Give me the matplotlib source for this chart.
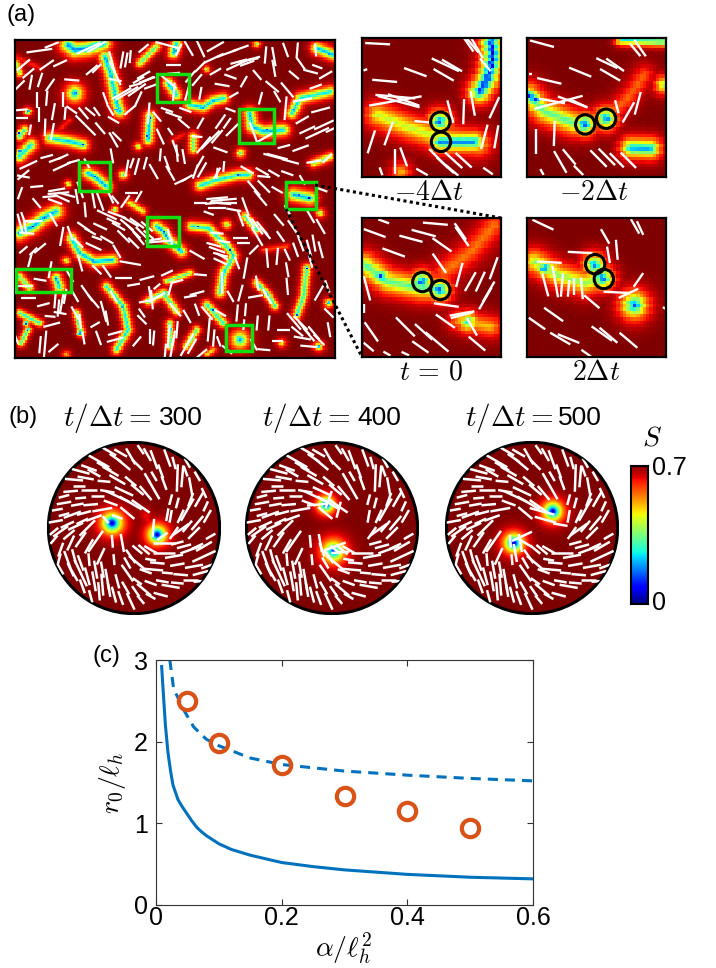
import numpy as np
import matplotlib
matplotlib.use("Agg")
import matplotlib.pyplot as plt
from matplotlib.collections import LineCollection
from matplotlib.patches import Circle, Rectangle

plt.rcParams['font.family'] = ['Liberation Sans', 'DejaVu Sans']
plt.rcParams['mathtext.fontset'] = 'cm'

W, H = 716, 968

# panel (c)
alpha_solid = [0.009, 0.012, 0.015, 0.019, 0.023, 0.027, 0.035, 0.042, 0.05, 0.057, 0.065, 0.072, 0.08, 0.09, 0.1, 0.12, 0.15, 0.2, 0.25, 0.3, 0.4, 0.5, 0.6]
r0_solid = [2.92, 2.55, 2.2, 1.87, 1.65, 1.47, 1.29, 1.2, 1.11, 1.03, 0.95, 0.9, 0.85, 0.8, 0.75, 0.68, 0.61, 0.52, 0.47, 0.43, 0.375, 0.34, 0.32]
alpha_dash = [0.022, 0.028, 0.044, 0.06, 0.08, 0.1, 0.15, 0.2, 0.3, 0.4, 0.5, 0.6]
r0_dash = [3.0, 2.65, 2.39, 2.18, 2.03, 1.95, 1.8, 1.72, 1.64, 1.59, 1.55, 1.52]
alpha_sim = [0.05, 0.1, 0.2, 0.3, 0.4, 0.5]
r0_sim = [2.5, 1.98, 1.72, 1.34, 1.15, 0.94]

# panel (a), low-order streaks: (points, width, depth)
main_streaks = [
    ([(205,45),(225,60),(265,55),(310,40)],19,.75), ([(315,80),(335,140),(350,215),(360,245)],15,.7),
    ([(530,40),(520,70)],13,.7), ([(470,50),(420,100)],11,.55), ([(225,190)],21,.75), ([(85,245)],10,.5),
    ([(75,300),(60,320)],11,.6), ([(95,345),(60,380)],15,.65), ([(150,325),(210,335),(250,345)],14,.68),
    ([(450,260),(445,330)],13,.7), ([(415,350)],10,.5), ([(580,320),(580,360)],11,.55),
    ([(505,160),(530,195)],13,.7), ([(570,225),(610,232),(640,212),(670,205)],13,.68), ([(620,118)],9,.45),
    ([(750,250),(755,290),(790,305),(850,300)],15,.7), ([(875,250),(900,205),(990,185)],14,.65),
    ([(950,55),(1000,75)],14,.7), ([(770,42)],9,.5), ([(722,370)],11,.6),
    ([(600,467),(650,450),(715,435),(745,435)],13,.65), ([(265,430),(285,440),(320,470)],14,.72),
    ([(370,435)],11,.6), ([(205,462)],9,.5), ([(880,495),(930,505)],16,.72), ([(960,550)],11,.5),
    ([(170,545),(130,565),(100,590),(60,610)],17,.72), ([(345,540)],9,.6), ([(390,520),(430,545)],10,.42),
    ([(470,590),(490,605),(505,630),(545,665)],13,.72), ([(575,590),(625,595),(690,660),(700,680),(670,730),(660,790)],12,.65),
    ([(215,625),(240,670),(285,695),(340,690)],13,.7), ([(200,692)],10,.5), ([(680,585)],11,.55),
    ([(735,560),(770,600)],11,.6), ([(170,745),(180,775)],13,.7), ([(60,740),(90,775)],11,.55),
    ([(920,715),(910,800),(890,855)],11,.62), ([(985,820)],11,.6), ([(770,760),(800,790),(825,830)],10,.62),
    ([(490,790),(445,815)],11,.6), ([(490,790),(530,845)],11,.6), ([(500,755),(570,730)],9,.55),
    ([(320,770),(370,830),(385,900),(350,960)],11,.65), ([(230,850),(245,910)],9,.62), ([(60,850),(120,880)],9,.62),
    ([(85,900),(65,940)],9,.62), ([(720,930)],21,.75), ([(620,825),(670,880)],11,.62), ([(510,880),(510,950)],10,.58),
    ([(560,950),(590,900)],10,.58), ([(845,940)],11,.4), ([(955,950)],11,.62), ([(940,400),(990,380)],11,.5),
    ([(50,80),(120,115)],9,.13), ([(180,300),(210,270)],9,.13), ([(790,660),(860,650)],9,.18),
    ([(520,330),(550,315)],9,.13), ([(50,100),(60,130)],10,.5), ([(200,975)],10,.35), ([(620,975),(640,960)],9,.35),
]
# defect cores, the blue spots of panel (a)
main_spots = [
    (225,60),(265,55),(320,90),(335,140),(350,240),(525,65),(520,185),(640,212),(605,232),(755,285),(800,300),
    (880,240),(985,70),(715,435),(285,440),(895,497),(925,505),(135,565),(100,590),(490,605),(595,592),(690,660),
    (280,693),(170,745),(920,715),(890,855),(495,790),(370,830),(80,880),(240,910),(720,930),(640,840),(800,795),
    (230,190),(450,265),(445,320),(250,345),(60,310),(85,245),(85,900),(510,900),(955,950),(985,820),(60,365),
]

# panel (a), white directors: (x, y, angle, length)
main_rods = [
    (118,62,8,60),(155,45,22,35),(70,105,40,40),(140,105,35,40),(180,100,25,35),(85,130,40,35),(150,165,55,35),
    (92,157,80,35),(120,150,72,35),(60,165,45,30),(215,150,-5,35),(275,120,40,35),(290,115,45,30),(265,55,25,60),
    (290,50,30,50),(345,150,-10,30),(365,90,80,40),(378,90,80,35),(390,80,85,30),(335,95,-75,50),(345,130,-65,60),
    (380,190,30,60),(410,180,35,50),(430,135,30,35),(440,150,25,35),(415,205,65,35),(405,165,15,30),(450,170,20,30),
    (430,55,40,30),(500,45,-15,55),(535,60,65,30),(520,105,0,35),(520,130,5,30),(505,155,-40,45),(520,190,85,50),
    (565,55,-60,40),(600,55,-65,45),(645,50,30,45),(680,70,20,50),(720,55,20,40),(745,90,10,45),(710,105,25,55),
    (640,85,25,50),(600,110,45,35),(570,140,50,35),(600,190,80,30),(645,125,30,30),(690,140,-20,30),(665,165,-10,35),
    (730,155,60,30),(700,195,30,25),(795,75,85,40),(820,80,-80,45),(820,115,-80,40),(855,60,-70,35),(890,60,85,35),
    (880,135,-40,30),(815,170,-40,40),(860,180,-50,45),(945,60,-85,30),(930,125,-15,35),(975,135,30,35),(945,170,20,30),
    (905,210,10,45),(855,235,85,55),(110,210,90,35),(140,205,85,35),(188,208,90,35),(160,245,80,40),(118,255,90,35),
    (195,250,85,30),(135,292,88,40),(157,305,80,40),(60,240,5,35),(65,265,0,30),(90,300,80,25),(270,245,-40,30),
    (240,270,-45,30),(290,245,-55,25),(315,205,-70,30),(270,300,-45,35),(300,295,-50,35),(340,270,-30,30),(350,320,-45,30),
    (340,330,-60,40),(365,190,30,50),(390,240,40,35),(445,250,85,50),(470,260,-50,30),(500,240,-20,30),(520,255,-20,40),
    (555,240,-20,30),(480,320,-65,40),(510,305,-55,20),(525,355,-70,40),(550,380,-80,35),(590,320,-5,25),(610,345,50,50),
    (630,330,45,60),(650,320,50,40),(605,420,60,40),(650,430,85,25),(670,410,85,25),(660,360,-20,35),(695,300,45,40),
    (760,310,-70,55),(790,325,30,45),(820,380,-15,50),(870,395,-15,40),(900,355,20,40),(950,310,25,60),(970,285,25,50),
    (920,300,25,40),(905,270,30,35),(960,240,15,45),(990,300,25,25),(850,350,15,30),(980,385,45,30),(940,395,10,35),
    (85,405,25,45),(140,380,15,30),(165,390,20,30),(185,410,25,45),(190,380,25,25),(335,378,-80,35),(70,435,40,35),
    (70,440,-10,30),(60,490,70,30),(410,410,75,40),(395,400,70,25),(380,415,80,40),(435,400,75,30),(480,375,85,30),
    (460,425,-60,40),(500,400,-70,35),(510,430,-60,40),(530,370,-85,40),(585,425,70,35),(600,395,60,30),(560,445,30,30),
    (540,455,25,30),(650,430,60,30),(740,420,-30,35),(785,425,-30,35),(790,440,-5,30),(830,380,-15,50),(760,475,-50,45),
    (790,470,-45,40),(780,505,-50,45),(830,480,-30,30),(175,490,5,50),(170,480,10,40),(185,505,-25,40),(240,480,-70,40),
    (230,500,-80,35),(280,510,-80,40),(300,515,-70,45),(255,540,-85,35),(395,490,0,30),(375,515,55,35),(415,500,60,30),
    (350,555,-20,45),(320,555,-25,50),(380,585,-40,40),(400,605,-45,45),(415,625,-50,40),(370,620,-45,40),(440,590,-40,35),
    (480,635,5,60),(460,630,10,40),(510,625,-75,45),(600,520,0,30),(670,510,5,60),(660,520,-5,50),(650,535,0,40),
    (700,540,-10,35),(735,530,-70,45),(720,565,-70,40),(625,550,-20,25),(835,570,-50,35),(875,590,-55,35),(930,560,-60,35),
    (960,590,-60,40),(860,540,-60,25),(650,610,-5,30),(720,625,0,35),(730,640,0,30),(660,675,-15,35),(660,695,-25,35),
    (710,700,-70,30),(735,715,80,50),(770,620,-60,50),(795,610,-50,35),(760,660,45,30),(800,685,-85,45),(830,680,85,40),
    (860,675,-65,30),(860,720,-80,35),(940,640,-80,40),(960,660,-75,40),(930,695,-75,30),(60,580,-75,45),(90,575,0,30),
    (80,610,-5,35),(160,570,-60,35),(185,620,80,45),(210,610,-70,35),(120,655,40,35),(100,665,45,25),(90,690,75,35),
    (235,640,-45,30),(280,650,-25,40),(320,630,-30,35),(290,625,-20,25),(240,700,-75,40),(350,665,-60,35),(390,700,-10,50),
    (590,675,-30,40),(480,650,0,20),(665,680,-30,30),(500,730,25,30),(440,745,15,35),(370,745,0,40),(400,765,10,30),
    (470,770,40,20),(600,735,-5,30),(530,755,15,30),(120,750,-10,30),(75,770,0,35),(85,805,0,35),(185,820,80,45),
    (175,835,85,40),(150,860,-5,25),(155,885,15,40),(130,825,15,30),(135,945,85,65),(120,945,85,40),(160,955,40,30),
    (225,800,-60,30),(260,790,-55,45),(280,815,-50,40),(310,845,-75,50),(320,865,-80,35),(345,910,15,35),(345,930,15,40),
    (240,875,-85,35),(225,850,-60,35),(250,925,-80,30),(295,925,-70,35),(285,885,30,25),(425,850,-55,25),(425,870,-45,30),
    (455,810,-85,45),(475,800,30,35),(510,775,75,35),(525,840,-50,40),(450,920,90,35),(460,925,85,35),(410,935,50,30),
    (505,920,85,55),(520,925,80,35),(560,945,60,60),(575,950,60,40),(620,850,-50,40),(625,900,85,55),(640,925,85,40),
    (665,760,90,50),(690,800,-60,30),(660,850,-30,30),(735,840,85,30),(770,880,85,35),(770,760,-80,35),(765,800,10,35),
    (800,800,-60,40),(805,880,85,35),(860,770,-85,40),(880,875,-50,50),(910,895,-50,40),(940,910,-50,40),(905,925,-10,40),
    (925,950,-5,40),(850,900,0,30),(830,935,0,25),(955,790,60,40),(980,770,-70,30),(985,850,-45,30),(985,900,-80,35),
    (790,960,-5,30),(760,945,-60,30),(655,935,-70,25),(600,975,40,40),(680,960,-40,30),(50,930,-70,20),(70,660,40,25),
    # denser clusters
    (390,575,-30,45),(410,580,-35,40),(425,610,-45,40),(355,590,-30,35),(340,575,-25,35),(400,640,-45,35),(445,615,-40,30),
    (650,505,5,50),(680,520,0,45),(640,520,5,40),(200,495,-15,40),(150,500,5,35),(165,515,-20,35),(75,590,-80,35),
    (105,575,5,35),(70,565,-70,30),(450,795,-80,40),(465,805,25,35),(435,815,10,30),(165,810,85,40),(195,800,80,35),
    (180,850,-10,30),(515,955,80,45),(530,900,85,40),(495,965,85,35),(900,880,-45,45),(925,915,-50,40),(955,930,-45,35),
    (890,905,-40,35),(715,95,15,40),(740,100,20,35),(760,85,15,30),(770,590,-55,45),(785,595,-50,40),(750,575,-60,35),
    (900,640,-70,40),(925,655,-75,40),(885,660,-70,35),(840,620,-55,30),(650,660,-20,40),(640,645,-15,35),(670,635,-10,30),
    (440,150,20,40),(415,150,30,30),(250,250,-50,35),(215,240,-35,30),(330,240,-60,30),(560,190,75,35),(590,150,50,35),
    (900,100,-55,35),(950,110,-20,25),(770,135,-50,30),(780,205,75,30),(830,200,-60,30),(690,240,-20,25),(550,280,-40,35),
    (600,280,60,30),(660,275,55,40),(680,280,55,30),(860,430,-20,30),(820,430,-30,30),(965,480,-20,25),(905,450,-60,25),
    (260,400,-60,25),(220,395,15,30),(110,470,5,30),(110,520,-50,30),(330,500,-65,35),(345,510,-50,25),(250,590,-35,35),
    (300,590,-25,35),(270,605,-30,30),(150,720,80,40),(210,740,-60,30),(290,720,-45,30),(320,725,-55,35),(340,800,-60,30),
    (570,800,10,30),(590,790,15,35),(560,860,-60,35),(590,840,-70,30),(720,790,75,40),(710,850,85,40),(730,885,85,25),
]

boxes = [(470,133,565,215),(717,237,820,340),(238,395,330,483),(855,457,945,537),(440,562,537,650),(48,718,212,787),(678,887,756,965)]

# zoomed panels of (a)
inset_limits = [(50,467,40,455),(545,963,40,455),(50,467,580,995),(545,963,580,995)]
inset_labels = ["$-4\\Delta t$", "$-2\\Delta t$", "$t\\,=\\,0$", "$2\\Delta t$"]
inset_streaks = [
    [([(440,50),(445,100),(430,160),(405,200)],26,.85), ([(445,60),(440,130)],14,.97), ([(100,270),(200,310),(280,335),(400,355)],32,.42),
     ([(285,290)],26,.85), ([(285,290)],9,.97), ([(285,350),(390,350)],24,.75), ([(285,350)],10,.97), ([(345,350)],10,.85), ([(170,440)],26,.3)],
    [([(550,210),(600,260),(690,295)],30,.55), ([(550,210),(575,225)],18,.85), ([(720,298)],26,.85), ([(720,298)],9,.97),
     ([(785,280)],26,.8), ([(785,280)],9,.95), ([(785,280),(850,220),(900,150)],28,.2), ([(860,368),(920,370)],24,.72), ([(860,368)],9,.97),
     ([(830,45),(960,50)],13,.65), ([(958,180)],22,.5)],
    [([(60,720),(130,770),(230,790),(285,790)],30,.55), ([(110,755)],22,.85), ([(110,755)],9,.97), ([(232,770)],26,.85), ([(232,770)],9,.97),
     ([(285,795)],26,.85), ([(285,795)],9,.97), ([(300,740),(380,680),(450,600)],34,.22), ([(370,890)],24,.65), ([(345,885),(440,905)],28,.3)],
    [([(570,710),(640,750),(720,775),(770,760)],30,.48), ([(600,730)],20,.85), ([(600,730)],8,.97), ([(750,720)],26,.8), ([(750,720)],9,.97),
     ([(775,760)],26,.85), ([(775,760)],9,.97), ([(870,840)],32,.8), ([(870,840)],10,.95)],
]
inset_rods = [
    [(97,57,-3,75),(210,142,-20,72),(118,168,-5,75),(300,120,-25,90),(320,122,-30,70),(295,150,-30,70),(380,60,-50,60),
     (370,60,-55,50),(395,70,-60,70),(420,120,-50,50),(150,215,-5,120),(150,228,10,160),(160,230,-15,130),(175,225,-20,100),
     (230,290,-5,45),(315,260,-75,70),(355,260,88,75),(382,235,-80,75),(447,248,65,70),(453,335,80,70),(417,335,75,75),
     (78,350,72,72),(130,325,70,75),(150,410,90,75),(175,395,-70,60),(280,400,-45,80),(300,420,-42,70),(325,405,-42,70),
     (355,405,-42,65),(320,435,-40,50),(230,440,-30,40),(428,437,-35,35),(107,438,-70,25),(60,135,20,12)],
    [(590,57,-15,75),(705,142,-22,72),(612,168,-13,75),(785,115,-25,70),(810,120,-35,65),(795,150,-30,70),(870,75,-50,50),
     (885,70,-55,60),(620,228,-10,80),(640,232,15,150),(680,230,-20,90),(700,235,-25,60),(555,147,0,10),(815,245,-75,40),
     (850,262,60,70),(878,235,75,70),(573,350,90,75),(627,325,88,75),(645,410,-60,75),(672,395,-50,60),(760,400,-45,70),
     (785,395,-45,70),(815,405,-45,60),(850,405,-45,65),(700,435,-45,40),(590,440,-60,20)],
    [(88,625,-20,70),(115,590,-20,35),(145,683,-20,72),(197,642,-15,72),(235,625,-15,75),(270,597,-5,75),(290,660,-35,70),
     (282,715,-55,70),(350,635,-55,70),(345,620,-55,60),(342,750,75,75),(375,770,60,65),(405,770,65,65),(430,800,60,70),
     (420,820,60,75),(445,730,70,70),(65,790,-75,75),(55,850,90,25),(303,840,-8,75),(350,865,10,75),(350,870,15,70),
     (380,905,-60,60),(78,920,-55,70),(180,905,-45,80),(235,920,-42,70),(225,965,-35,60),(275,950,-40,90),(300,888,-35,70),
     (395,955,-40,65),(70,965,-40,40),(125,985,-30,25),(180,985,-25,25)],
    [(593,600,-25,70),(705,683,-3,75),(780,635,-60,50),(790,690,-80,50),(815,675,-85,60),(612,712,-3,75),(600,780,-75,70),
     (630,770,-80,95),(650,780,85,70),(670,790,85,50),(685,785,90,50),(710,790,-85,65),(740,830,-40,60),(815,802,-3,80),
     (850,805,25,65),(880,765,55,50),(625,868,-35,70),(575,895,-35,60),(645,940,-30,70),(670,940,-22,70),(770,925,-35,75),
     (790,930,-40,70),(850,945,-40,70),(725,985,-35,40),(870,605,-60,50),(885,610,-65,45),(960,850,-30,15)],
]
inset_circles = [
    [(285,290),(287,350)], [(720,298),(783,281)],
    [(231,771),(285,795)], [(750,718),(776,762)],
]

# panel (b), rods shared by the three discs, in the frame of the first disc
disc_center = (310, 385)
disc_rods = [
    (235,155,-30,45),(270,160,-30,40),(300,170,-60,50),(330,150,-55,30),(370,180,-70,55),(410,175,-70,50),(470,190,-60,30),
    (205,185,-30,65),(150,215,-15,50),(165,235,-10,45),(130,240,-5,50),(190,220,-30,40),(240,215,-30,50),(280,195,-40,45),
    (320,195,-45,40),(350,235,-60,30),(370,230,-60,30),(440,235,88,75),(500,230,-60,30),(480,260,-80,50),(520,280,-65,30),
    (370,270,-60,60),(260,240,-30,50),(300,245,-40,40),(220,245,-5,35),(120,275,5,40),(175,270,0,45),(100,290,15,30),
    (260,290,-25,70),(300,310,-30,70),(330,320,-35,60),(290,340,-40,50),(240,310,-20,40),(100,310,10,40),(150,295,5,30),
    (215,330,10,55),(125,345,20,50),(75,365,10,40),(160,340,15,40),(90,395,35,50),(135,380,25,45),(70,420,50,30),
    (170,385,45,60),(195,425,55,70),(120,430,65,45),(90,450,70,40),(110,480,-70,50),(150,520,-65,80),(90,510,-60,30),
    (210,470,65,50),(230,540,-80,60),(205,575,-85,50),(155,560,-70,40),(130,525,-60,40),(275,430,-80,50),(245,425,-85,35),
    (320,490,-40,60),(290,520,-55,55),(340,450,-40,40),(340,570,-40,50),(300,605,-65,50),(270,595,-70,40),(260,545,-75,40),
    (370,510,-5,50),(400,460,0,60),(430,470,10,50),(480,450,20,60),(520,470,25,70),(490,500,10,50),(450,525,-5,40),
    (480,540,0,40),(420,560,-10,50),(390,585,-15,40),(360,550,-20,35),(410,520,-5,30),(520,440,30,50),(450,390,35,55),
    (470,330,60,70),(500,370,50,50),(530,350,60,40),(420,350,80,35),(505,300,60,45),(440,310,75,30),(540,410,30,30),
    (360,480,-10,30),(320,545,-35,30),(195,510,-80,50),(175,480,-85,35),(215,510,-80,45),(250,480,-85,30),(100,345,15,30),
    # denser areas
    (255,175,-35,40),(220,200,-30,45),(175,205,-20,45),(350,165,-60,40),(390,215,-70,40),(430,190,-75,35),(455,230,85,60),
    (465,215,-70,30),(400,250,-70,40),(345,280,-50,50),(320,270,-40,45),(280,275,-25,55),(230,275,-10,40),(200,290,0,35),
    (145,260,0,35),(80,330,10,30),(140,315,10,35),(180,315,5,40),(190,355,20,45),(110,375,25,40),(155,365,25,35),
    (70,395,40,30),(115,405,40,40),(150,420,55,50),(175,440,60,45),(85,480,75,35),(130,470,-75,40),(150,490,-70,45),
    (120,510,-65,40),(170,530,-75,50),(190,545,-80,55),(215,555,-85,60),(235,570,-80,40),(180,590,-75,35),(250,585,-75,45),
    (285,565,-60,40),(315,575,-55,35),(330,600,-50,30),(360,590,-30,30),(300,470,-55,45),(320,450,-40,35),(360,450,-30,40),
    (380,490,-5,40),(440,495,10,40),(460,440,15,40),(510,520,15,45),(530,500,20,35),(500,440,25,35),(440,430,15,35),
    (490,400,45,45),(470,380,50,40),(430,400,55,40),(450,350,65,40),(480,300,70,40),(420,300,75,30),(525,320,65,30),
    (395,545,-10,35),(440,550,-5,35),(505,545,5,30),(345,515,-20,35),(290,490,-60,35),
]
disc_streaks = [
    [([(245,370)],26,.98), ([(380,405)],23,.98), ([(345,345),(365,395)],18,.1)],
    [([(293,315)],20,.98), ([(315,455)],28,.85), ([(315,455)],8,.7)],
    [([(373,335)],24,.98), ([(256,430)],24,.98)],
]
disc_extra_rods = [
    [(225,360,-50,25),(260,352,-20,30),(368,385,85,50),(395,410,35,35),(400,430,0,60),(410,345,80,35)],
    [(265,315,5,55),(300,300,70,50),(330,330,75,45),(280,450,-70,40),(335,458,5,50),(320,440,20,60)],
    [(340,335,-15,70),(350,360,-15,60),(395,375,-10,40),(280,410,25,60),(290,430,-30,40),(260,460,-80,50)],
]
disc_x = [134, 332, 532]
disc_labels = ["300", "400", "500"]
disc_math_x = [63, 262, 465]
disc_num_x = [159, 357, 558]


def px_axes(fig, x0, y0, x1, y1, **kw):
    return fig.add_axes([x0 / W, 1 - y1 / H, (x1 - x0) / W, (y1 - y0) / H], **kw)


def order_field(streaks, xlim, ylim, nx, ny):
    xs = xlim[0] + (np.arange(nx) + 0.5) * (xlim[1] - xlim[0]) / nx
    ys = ylim[0] + (np.arange(ny) + 0.5) * (ylim[1] - ylim[0]) / ny
    xx, yy = np.meshgrid(xs, ys)
    # staggered rows give the toothed edge of the triangular mesh
    xx = xx + (np.arange(ny)[:, None] % 2) * (xlim[1] - xlim[0]) / nx * 0.5
    dip = np.zeros_like(xx)
    for pts, width, depth in streaks:
        pts = np.array(pts, dtype=float)
        if len(pts) == 1:
            pts = np.vstack([pts, pts])
        for a, b in zip(pts[:-1], pts[1:]):
            ab = b - a
            t = ((xx - a[0]) * ab[0] + (yy - a[1]) * ab[1]) / max((ab ** 2).sum(), 1e-9)
            t = np.clip(t, 0, 1)
            d2 = (xx - a[0] - t * ab[0]) ** 2 + (yy - a[1] - t * ab[1]) ** 2
            # peaked profile: thin core, soft orange halo
            dip = np.maximum(dip, depth * np.exp(-(d2 / width ** 2) ** 0.65))
    return 0.7 * (1 - dip)


def draw_rods(ax, rods, lw, scale=1.0, **kw):
    segs = []
    for x, y, ang, length in rods:
        c, s = np.cos(np.radians(ang)), np.sin(np.radians(ang))
        half = scale * length / 2
        segs.append([(x - c * half, y + s * half), (x + c * half, y - s * half)])
    ax.add_collection(LineCollection(segs, colors='white', linewidths=lw, capstyle='butt', **kw))


def field_panel(ax, streaks, rods, xlim, ylim, nx, ny, lw, scale=1.0):
    s = order_field(streaks, xlim, ylim, nx, ny)
    ax.imshow(s, cmap='jet', vmin=0, vmax=0.7, extent=(xlim[0], xlim[1], ylim[1], ylim[0]),
              aspect='auto', interpolation='nearest')
    draw_rods(ax, rods, lw, scale)
    ax.set_xlim(xlim)
    ax.set_ylim(ylim[1], ylim[0])
    ax.set_xticks([])
    ax.set_yticks([])
    for sp in ax.spines.values():
        sp.set_linewidth(1.6)
        sp.set_color('black')


def main():
    fig = plt.figure(figsize=(W / 100, H / 100), dpi=100)

    # panel a
    ax = px_axes(fig, 15, 40, 335, 358)
    spots = [([p], 7, .97) for p in main_spots]
    field_panel(ax, main_streaks + spots, main_rods, (45, 1003), (30, 985), 190, 190, 1.6, 1.3)
    for x0, y0, x1, y1 in boxes:
        ax.add_patch(Rectangle((x0, y0), x1 - x0, y1 - y0, fill=False, ec='#10e010', lw=2.5, zorder=5))

    positions = [(362, 38, 501, 177), (527, 38, 666, 177), (362, 218, 501, 357), (527, 218, 666, 357)]
    for pos, lim, st, rods, circ in zip(positions, inset_limits, inset_streaks, inset_rods, inset_circles):
        axi = px_axes(fig, *pos)
        field_panel(axi, st, rods, lim[:2], lim[2:], 42, 42, 1.7)
        for c in circ:
            axi.add_patch(Circle(c, 29, fill=False, ec='black', lw=2.2, zorder=5))

    # panel b
    for i, x in enumerate(disc_x):
        axd = px_axes(fig, x - 87, 441, x + 87, 615)
        lim_x = (disc_center[0] - 261, disc_center[0] + 261)
        lim_y = (disc_center[1] - 261, disc_center[1] + 261)
        s = order_field(disc_streaks[i], lim_x, lim_y, 240, 240)
        im = axd.imshow(s, cmap='jet', vmin=0, vmax=0.7, extent=(lim_x[0], lim_x[1], lim_y[1], lim_y[0]),
                        aspect='auto', interpolation='bilinear')
        clip = Circle(disc_center, 257, transform=axd.transData)
        im.set_clip_path(clip)
        draw_rods(axd, disc_rods + disc_extra_rods[i], 1.8, 1.1, clip_path=clip)
        axd.add_patch(Circle(disc_center, 257, fill=False, ec='black', lw=2.2))
        axd.set_xlim(lim_x)
        axd.set_ylim(lim_y[1], lim_y[0])
        axd.axis('off')

    # colour bar
    cax = px_axes(fig, 631, 466, 648, 604)
    cax.imshow(np.linspace(0.7, 0, 256)[:, None], cmap='jet', vmin=0, vmax=0.7, aspect='auto')
    cax.set_xticks([])
    cax.set_yticks([])
    for sp in cax.spines.values():
        sp.set_linewidth(1.5)

    # panel c
    axc = px_axes(fig, 156, 660, 533, 905)
    axc.plot(alpha_solid, r0_solid, color='#0072BD', lw=2.2)
    axc.plot(alpha_dash, r0_dash, color='#0072BD', lw=2.2, ls=(0, (3.3, 2.3)))
    axc.plot(alpha_sim, r0_sim, 'o', ms=12.5, mfc='none', mec='#D95319', mew=3)
    axc.set_xlim(0, 0.6)
    axc.set_ylim(0, 3)
    axc.set_xticks([0, 0.2, 0.4, 0.6])
    axc.set_xticklabels(['0', '0.2', '0.4', '0.6'])
    axc.set_yticks([0, 1, 2, 3])
    axc.tick_params(direction='in', top=True, right=True, length=4, width=0.8, labelsize=18, color='#333333')
    axc.tick_params(axis='x', pad=1)
    axc.tick_params(axis='y', pad=6)
    for sp in axc.spines.values():
        sp.set_linewidth(0.8)
        sp.set_color('#333333')

    # overlay for labels and connector lines
    over = fig.add_axes([0, 0, 1, 1], facecolor='none')
    over.set_xlim(0, W)
    over.set_ylim(H, 0)
    over.axis('off')
    over.plot([315, 501], [185, 218], color='black', lw=2.2, ls=(0, (1, 1.1)))
    over.plot([286, 362], [209, 357], color='black', lw=2.2, ls=(0, (1, 1.1)))
    for (x, y), t in zip([(429, 193), (594, 193), (431, 373), (596, 373)], inset_labels):
        over.text(x, y, t, fontsize=20, ha='center', va='center')
    over.text(7, 15, "(a)", fontsize=17, ha='left', va='center')
    over.text(9, 417, "(b)", fontsize=17, ha='left', va='center')
    over.text(92, 656, "(c)", fontsize=17, ha='left', va='center')
    for mx, nx, lab in zip(disc_math_x, disc_num_x, disc_labels):
        over.text(mx, 418, "$t/\\Delta t=$", fontsize=21, ha='left', va='center')
        over.text(nx, 418, lab, fontsize=19, ha='left', va='center')
    over.text(652, 438, "$S$", fontsize=20, ha='center', va='center')
    over.text(652, 468, "0.7", fontsize=18, ha='left', va='center')
    over.text(652, 603, "0", fontsize=18, ha='left', va='center')
    over.text(344, 948, "$\\alpha/\\ell_h^2$", fontsize=20, ha='center', va='center')
    over.text(113, 783, "$r_0/\\ell_h$", fontsize=20, ha='center', va='center', rotation=90)

    fig.savefig("out.png", dpi=100)


if __name__ == "__main__":
    main()
